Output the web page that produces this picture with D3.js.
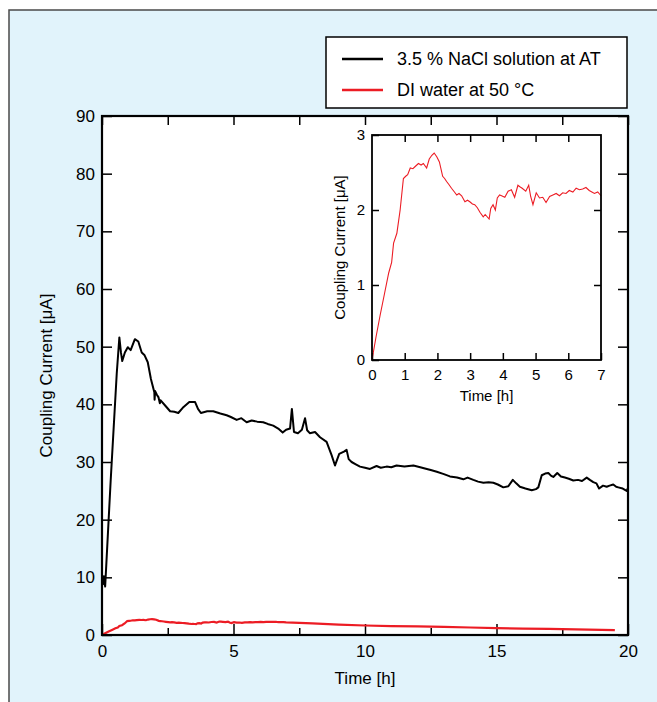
<!DOCTYPE html>
<html>
<head>
<meta charset="utf-8">
<script src="https://cdn.jsdelivr.net/npm/d3@7"></script>
<style>
  body { margin: 0; background: #fff; }
  svg { display: block; font-family: "Liberation Sans", Arial, sans-serif; }
</style>
</head>
<body>
<svg id="chart" width="657" height="702"></svg>
<script>
// 3.5 % NaCl solution at AT (time in h, current in µA)
const blackT = [0, 0.04, 0.07, 0.12, 0.33, 0.56, 0.66, 0.72, 0.77, 0.87, 0.98, 1.09, 1.25, 1.38, 1.51, 1.62, 1.74, 1.86, 1.99, 2.0, 2.02, 2.08, 2.15, 2.2, 2.23, 2.4, 2.59, 2.75, 2.9, 3.07, 3.32, 3.54, 3.65, 3.76, 4.0, 4.23, 4.5, 4.74, 4.9, 5.12, 5.3, 5.5, 5.69, 5.9, 6.13, 6.3, 6.51, 6.7, 6.87, 7.0, 7.15, 7.22, 7.3, 7.45, 7.6, 7.72, 7.8, 7.9, 8.1, 8.29, 8.54, 8.73, 8.86, 9.02, 9.2, 9.3, 9.38, 9.49, 9.65, 9.81, 10.0, 10.19, 10.44, 10.6, 10.82, 11.0, 11.2, 11.5, 11.84, 12.1, 12.35, 12.5, 12.73, 13.0, 13.23, 13.5, 13.74, 13.9, 14.12, 14.3, 14.5, 14.7, 14.88, 15.05, 15.26, 15.45, 15.62, 15.75, 15.89, 16.1, 16.34, 16.5, 16.59, 16.72, 16.85, 16.97, 17.08, 17.16, 17.31, 17.45, 17.6, 17.75, 17.92, 18.1, 18.25, 18.43, 18.55, 18.68, 18.8, 18.9, 19.05, 19.19, 19.3, 19.44, 19.55, 19.63, 19.8, 19.95, 20.0];
const blackV = [10, 8.8, 10.2, 8.4, 26.8, 45.3, 51.6, 49, 47.5, 49, 49.9, 49.4, 51.3, 50.9, 49, 48.5, 47.3, 44.4, 42.1, 40.8, 42.3, 41.7, 41.2, 40.2, 40.7, 39.8, 38.8, 38.7, 38.5, 39.4, 40.4, 40.4, 39.2, 38.5, 38.8, 38.8, 38.4, 38.1, 37.8, 37.3, 37.6, 36.9, 37.2, 37.0, 36.9, 36.6, 36.3, 35.8, 35.1, 35.6, 35.8, 39.2, 35.2, 35.0, 35.6, 37.6, 35.5, 35.0, 35.2, 34.3, 33.5, 31.2, 29.4, 31.4, 31.8, 32.1, 30.5, 30, 29.6, 29.2, 29.0, 28.8, 29.3, 29.0, 29.2, 29.1, 29.4, 29.2, 29.4, 29.1, 28.8, 28.6, 28.3, 27.9, 27.5, 27.3, 27.0, 27.3, 26.9, 26.6, 26.4, 26.5, 26.4, 26.1, 25.6, 25.8, 26.9, 26.3, 25.7, 25.4, 25.1, 25.3, 25.6, 27.7, 28.0, 28.1, 27.6, 27.4, 28.1, 27.5, 27.3, 27.1, 26.8, 26.9, 26.7, 27.3, 26.9, 26.5, 26.3, 25.4, 25.9, 25.7, 25.9, 26.1, 25.7, 25.6, 25.4, 25.0, 25.5];

// DI water at 50 °C
const redT = [0, 0.12, 0.25, 0.38, 0.51, 0.6, 0.66, 0.76, 0.86, 0.96, 1.03, 1.09, 1.17, 1.25, 1.32, 1.42, 1.5, 1.57, 1.67, 1.75, 1.83, 1.9, 1.98, 2.06, 2.16, 2.22, 2.28, 2.35, 2.43, 2.52, 2.59, 2.66, 2.74, 2.84, 2.92, 2.99, 3.07, 3.14, 3.22, 3.3, 3.4, 3.46, 3.52, 3.58, 3.63, 3.7, 3.77, 3.83, 3.9, 3.96, 4.06, 4.16, 4.26, 4.36, 4.46, 4.52, 4.59, 4.7, 4.79, 4.85, 4.92, 5.02, 5.12, 5.22, 5.32, 5.43, 5.53, 5.63, 5.73, 5.83, 5.93, 6.03, 6.14, 6.24, 6.34, 6.44, 6.54, 6.64, 6.72, 6.8, 6.9, 7.0, 8.0, 9.0, 10.0, 11.0, 12.0, 13.0, 14.0, 15.0, 16.0, 17.0, 18.0, 19.0, 19.5];
const redV = [0.0, 0.3, 0.6, 0.88, 1.16, 1.3, 1.56, 1.69, 2.0, 2.42, 2.45, 2.47, 2.56, 2.55, 2.58, 2.62, 2.6, 2.62, 2.56, 2.68, 2.73, 2.76, 2.71, 2.64, 2.45, 2.42, 2.38, 2.34, 2.29, 2.24, 2.2, 2.22, 2.19, 2.11, 2.13, 2.11, 2.08, 2.07, 2.03, 1.97, 1.91, 1.94, 1.91, 1.88, 2.02, 2.07, 2.0, 2.16, 2.2, 2.19, 2.17, 2.25, 2.27, 2.17, 2.33, 2.31, 2.29, 2.25, 2.33, 2.18, 2.07, 2.23, 2.16, 2.17, 2.1, 2.18, 2.2, 2.22, 2.19, 2.23, 2.22, 2.26, 2.24, 2.29, 2.27, 2.28, 2.3, 2.26, 2.24, 2.22, 2.24, 2.19, 2.0, 1.8, 1.65, 1.55, 1.5, 1.4, 1.3, 1.2, 1.1, 1.05, 0.98, 0.9, 0.85];

const xMajor = [0, 5, 10, 15, 20];
const xMinor = [2.5, 7.5, 12.5, 17.5];
const yTicks = [0, 10, 20, 30, 40, 50, 60, 70, 80, 90];
const insetX = [0, 1, 2, 3, 4, 5, 6, 7];
const insetY = [0, 1, 2, 3];
const legendLabels = ["3.5 % NaCl solution at AT", "DI water at 50 °C"];
const colors = ["#000000", "#ec1c24"];

const svg = d3.select("#chart");

// light blue panel
svg.append("rect")
  .attr("x", 9).attr("y", 10).attr("width", 670).attr("height", 720)
  .attr("fill", "#e1f3fb").attr("stroke", "#4a4a4a").attr("stroke-width", 1.5);

const m = { left: 102, right: 628, top: 116, bottom: 635 };
const x = d3.scaleLinear().domain([0, 20]).range([m.left, m.right]);
const y = d3.scaleLinear().domain([0, 90]).range([m.bottom, m.top]);

svg.append("rect")
  .attr("x", m.left).attr("y", m.top)
  .attr("width", m.right - m.left).attr("height", m.bottom - m.top)
  .attr("fill", "#fff");

function styleAxis(g, size) {
  g.select(".domain").remove();
  g.selectAll(".tick line").attr("stroke", "#000").attr("stroke-width", 1.5);
  g.selectAll(".tick text").attr("fill", "#000").style("font-size", size + "px");
}

// main axes, ticks pointing inward
svg.append("g").attr("transform", `translate(0,${m.bottom})`)
  .call(d3.axisBottom(x).tickValues(xMajor).tickSizeInner(-11).tickSizeOuter(0).tickPadding(10))
  .call(g => styleAxis(g, 17));
svg.append("g").attr("transform", `translate(0,${m.bottom})`)
  .call(d3.axisBottom(x).tickValues(xMinor).tickSizeInner(-7).tickSizeOuter(0).tickFormat(""))
  .call(g => styleAxis(g, 17));
svg.append("g").attr("transform", `translate(0,${m.top})`)
  .call(d3.axisTop(x).tickValues(xMajor.concat(xMinor)).tickSizeInner(-9).tickSizeOuter(0).tickFormat(""))
  .call(g => styleAxis(g, 17));
svg.append("g").attr("transform", `translate(${m.left},0)`)
  .call(d3.axisLeft(y).tickValues(yTicks).tickSizeInner(-10).tickSizeOuter(0).tickPadding(7))
  .call(g => styleAxis(g, 17));
svg.append("g").attr("transform", `translate(${m.right},0)`)
  .call(d3.axisRight(y).tickValues(yTicks).tickSizeInner(-10).tickSizeOuter(0).tickFormat(""))
  .call(g => styleAxis(g, 17));

const line = d3.line().x(d => x(d[0])).y(d => y(d[1]));
svg.append("path")
  .datum(redT.map((t, i) => [t, redV[i]]))
  .attr("d", line).attr("fill", "none")
  .attr("stroke", colors[1]).attr("stroke-width", 2.2);
svg.append("path")
  .datum(blackT.map((t, i) => [t, blackV[i]]))
  .attr("d", line).attr("fill", "none")
  .attr("stroke", colors[0]).attr("stroke-width", 2).attr("stroke-linejoin", "round");

svg.append("rect")
  .attr("x", m.left).attr("y", m.top)
  .attr("width", m.right - m.left).attr("height", m.bottom - m.top)
  .attr("fill", "none").attr("stroke", "#000").attr("stroke-width", 2.2);

svg.append("text")
  .attr("x", (m.left + m.right) / 2).attr("y", 684)
  .attr("text-anchor", "middle").style("font-size", "17px")
  .text("Time [h]");
svg.append("text")
  .attr("transform", `translate(52,${(m.top + m.bottom) / 2}) rotate(-90)`)
  .attr("text-anchor", "middle").style("font-size", "17px")
  .text("Coupling Current [μA]");

// inset
const im = { left: 372, right: 601, top: 135, bottom: 360 };
const xi = d3.scaleLinear().domain([0, 7]).range([im.left, im.right]);
const yi = d3.scaleLinear().domain([0, 3]).range([im.bottom, im.top]);
const inner = insetX.slice(1, -1), innerY = insetY.slice(1, -1);

svg.append("rect")
  .attr("x", im.left).attr("y", im.top)
  .attr("width", im.right - im.left).attr("height", im.bottom - im.top)
  .attr("fill", "#fff");

svg.append("g").attr("transform", `translate(0,${im.bottom})`)
  .call(d3.axisBottom(xi).tickValues(insetX).tickFormat(d3.format("d")).tickSizeInner(-7).tickSizeOuter(0).tickPadding(9))
  .call(g => styleAxis(g, 15));
svg.append("g").attr("transform", `translate(0,${im.top})`)
  .call(d3.axisTop(xi).tickValues(inner).tickSizeInner(-7).tickSizeOuter(0).tickFormat(""))
  .call(g => styleAxis(g, 15));
svg.append("g").attr("transform", `translate(${im.left},0)`)
  .call(d3.axisLeft(yi).tickValues(insetY).tickFormat(d3.format("d")).tickSizeInner(-7).tickSizeOuter(0).tickPadding(7))
  .call(g => styleAxis(g, 15));
svg.append("g").attr("transform", `translate(${im.right},0)`)
  .call(d3.axisRight(yi).tickValues(innerY).tickSizeInner(-7).tickSizeOuter(0).tickFormat(""))
  .call(g => styleAxis(g, 15));

const lineI = d3.line().x(d => xi(d[0])).y(d => yi(d[1]));
svg.append("path")
  .datum(redT.map((t, i) => [t, redV[i]]).filter(d => d[0] <= 7))
  .attr("d", lineI).attr("fill", "none")
  .attr("stroke", colors[1]).attr("stroke-width", 1.1);

svg.append("rect")
  .attr("x", im.left).attr("y", im.top)
  .attr("width", im.right - im.left).attr("height", im.bottom - im.top)
  .attr("fill", "none").attr("stroke", "#000").attr("stroke-width", 1.8);

svg.append("text")
  .attr("x", (im.left + im.right) / 2).attr("y", 401)
  .attr("text-anchor", "middle").style("font-size", "15px")
  .text("Time [h]");
svg.append("text")
  .attr("transform", `translate(345,${(im.top + im.bottom) / 2}) rotate(-90)`)
  .attr("text-anchor", "middle").style("font-size", "15px")
  .text("Coupling Current [μA]");

// legend
const lg = svg.append("g");
lg.append("rect")
  .attr("x", 326).attr("y", 37).attr("width", 301).attr("height", 71)
  .attr("fill", "#fff").attr("stroke", "#000").attr("stroke-width", 1.5);
legendLabels.forEach((lab, i) => {
  const ly = 59 + i * 31;
  lg.append("line")
    .attr("x1", 342).attr("x2", 383).attr("y1", ly).attr("y2", ly)
    .attr("stroke", colors[i]).attr("stroke-width", 2.5);
  lg.append("text")
    .attr("x", 397).attr("y", ly + 6)
    .style("font-size", "18px")
    .text(lab);
});
</script>
</body>
</html>
